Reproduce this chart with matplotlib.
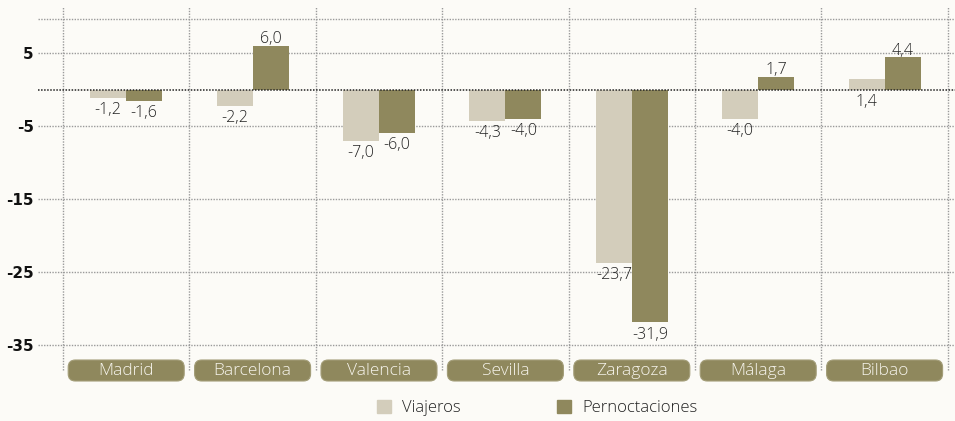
import numpy as np
import matplotlib.pyplot as plt
from matplotlib.patches import FancyBboxPatch, Patch

# Variación interanual por ciudad (%)
ciudades = ['Madrid', 'Barcelona', 'Valencia', 'Sevilla', 'Zaragoza', 'Málaga', 'Bilbao']
viajeros = [-1.2, -2.2, -7.0, -4.3, -23.7, -4.0, 1.4]
pernoctaciones = [-1.6, 6.0, -6.0, -4.0, -31.9, 1.7, 4.4]
yticks = [5, -5, -15, -25, -35]

COL_VIA = '#d3cdbb'
COL_PER = '#8f885d'
BG = '#fcfbf7'

plt.rcParams['font.family'] = ['Open Sans', 'DejaVu Sans']
plt.rcParams['font.weight'] = 'light'

W, H = 955, 421
fig = plt.figure(figsize=(W / 100, H / 100), dpi=100, facecolor=BG)

# axes box in pixels
left_px, right_px, top_px, bot_px = 38, 955, 19, 370
zero_px, px_per_unit = 89.5, 7.3
ax = fig.add_axes([left_px / W, 1 - bot_px / H, (right_px - left_px) / W, (bot_px - top_px) / H])
ax.set_facecolor(BG)

cat_px = 126.4
first_edge_px = 63
x = np.arange(len(ciudades))
ax.set_xlim(-0.5 - (first_edge_px - left_px) / cat_px,
            -0.5 + (right_px - first_edge_px) / cat_px)
ymax = (zero_px - top_px) / px_per_unit
ax.set_ylim(-(bot_px - zero_px) / px_per_unit, ymax)

width = 0.285
ax.bar(x - width / 2, viajeros, width, color=COL_VIA, zorder=3)
ax.bar(x + width / 2, pernoctaciones, width, color=COL_PER, zorder=3)

# grid
dot = (0, (1, 1))
grid_col = '#9a9a9a'
for t in yticks:
    ax.axhline(t, color=grid_col, lw=1, ls=dot, zorder=1)
ax.axhline(ymax, color=grid_col, lw=1, ls=dot, zorder=1, clip_on=False)
ax.axhline(0, color='#222222', lw=1.1, ls=dot, zorder=4)
for e in np.arange(len(ciudades) + 1) - 0.5:
    ax.axvline(e, ymin=0, ymax=1 + 12 / (bot_px - top_px), color=grid_col, lw=1,
               ls=dot, zorder=1, clip_on=False)

for s in ax.spines.values():
    s.set_visible(False)

ax.set_xticks([])
ax.set_yticks(yticks)
ax.set_yticklabels([str(t) for t in yticks], fontsize=11, fontweight='bold',
                   color='#111111', family='DejaVu Sans')
ax.tick_params(axis='y', length=0, pad=3)


def fmt(v):
    return f'{v:.1f}'.replace('.', ',')


# value labels: below the bar end for negatives (and for all viajeros), above otherwise
lab_kw = dict(textcoords='offset points', ha='center', fontsize=11.5, color='#222222', zorder=5)
for xi, v in zip(x, viajeros):
    ax.annotate(fmt(v), (xi - width / 2, min(v, 0)), xytext=(0, -3), va='top', **lab_kw)
for xi, v in zip(x, pernoctaciones):
    if v >= 0:
        ax.annotate(fmt(v), (xi + width / 2, v), xytext=(0, -1), va='bottom', **lab_kw)
    else:
        ax.annotate(fmt(v), (xi + width / 2, v), xytext=(0, -3), va='top', **lab_kw)

# category labels in rounded boxes
box_w_px, box_h_px = 116, 21
box_top_px = 360
for xi, name in zip(x, ciudades):
    cx_px = first_edge_px + (xi + 0.5) * cat_px
    x0 = (cx_px - box_w_px / 2) / W
    y0 = 1 - (box_top_px + box_h_px) / H
    patch = FancyBboxPatch((x0, y0), box_w_px / W, box_h_px / H,
                           boxstyle='round,pad=0,rounding_size=0.0075',
                           mutation_aspect=W / H, transform=fig.transFigure,
                           facecolor=COL_PER, edgecolor='#a39d78', lw=0.8)
    fig.patches.append(patch)
    fig.text(cx_px / W, 1 - (box_top_px + box_h_px / 2 + 0.5) / H, name,
             ha='center', va='center', fontsize=12.5, color='#f6f4ec')

handles = [Patch(color=COL_VIA, label='Viajeros'), Patch(color=COL_PER, label='Pernoctaciones')]
fig.legend(handles=handles, loc='center', bbox_to_anchor=(537 / W, 1 - 408 / H), ncol=2,
           frameon=False, fontsize=12, handlelength=0.84, handleheight=0.84,
           handletextpad=0.66, columnspacing=5.8, labelcolor='#222222')

fig.savefig('out.png', dpi=100, facecolor=BG)
